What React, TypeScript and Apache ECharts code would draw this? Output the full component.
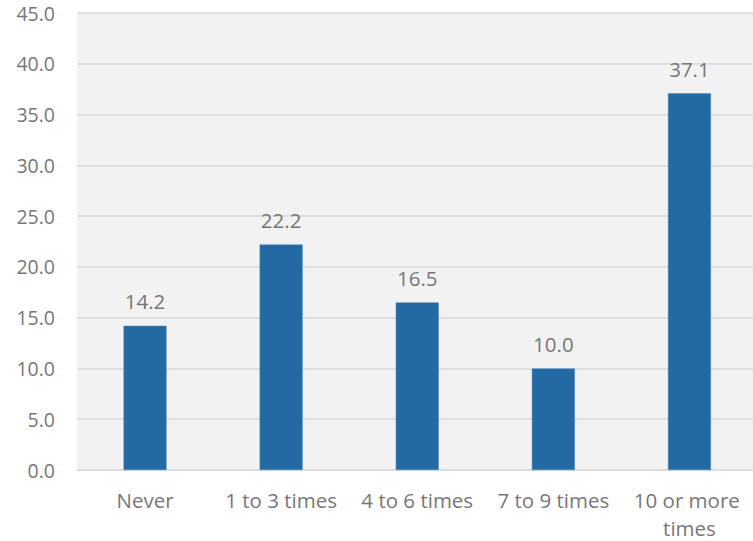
import React, { useEffect, useRef } from "react";
import * as echarts from "echarts";

const categories = ["Never", "1 to 3 times", "4 to 6 times", "7 to 9 times", "10 or more times"];
const values = [14.2, 22.2, 16.5, 10.0, 37.1];
const yTicks = { min: 0, max: 45, interval: 5 };

export default function App() {
  const ref = useRef<HTMLDivElement>(null);
  useEffect(() => {
    if (!ref.current) return;
    const chart = echarts.init(ref.current, null, { renderer: "svg" });
    const font = "'Open Sans', sans-serif";
    const gray = "#777777";
    chart.setOption({
      animation: false,
      backgroundColor: "#ffffff",
      grid: {
        left: 77,
        right: -4.5,
        top: 13,
        bottom: 71,
        outerBoundsMode: "none",
        show: true,
        backgroundColor: "#f2f2f2",
        borderWidth: 0,
      },
      xAxis: {
        type: "category",
        data: categories,
        axisTick: { show: false },
        axisLine: { lineStyle: { color: "#d9d9d9", width: 1 } },
        axisLabel: {
          color: gray,
          fontFamily: font,
          fontSize: 20.5,
          margin: 16,
          lineHeight: 28,
          width: 130,
          overflow: "break",
          interval: 0,
        },
      },
      yAxis: {
        type: "value",
        min: yTicks.min,
        max: yTicks.max,
        interval: yTicks.interval,
        axisLine: { show: false },
        axisTick: { show: false },
        splitLine: { lineStyle: { color: "#d9d9d9", width: 1.5 } },
        axisLabel: {
          color: gray,
          fontFamily: font,
          fontSize: 19.5,
          margin: 22,
          formatter: (v: number) => v.toFixed(1),
        },
      },
      series: [
        {
          type: "bar",
          data: values,
          barWidth: 43,
          itemStyle: { color: "#2369a4", borderColor: "#4a86bb", borderWidth: 0.5 },
          label: {
            show: true,
            position: "top",
            distance: 14,
            color: gray,
            fontFamily: font,
            fontSize: 20.5,
            formatter: (p: any) => Number(p.value).toFixed(1),
          },
        },
      ],
    });
    return () => chart.dispose();
  }, []);
  return (
    <div
      ref={ref}
      style={{ position: "absolute", left: 0, top: 0, width: 753, height: 541 }}
    />
  );
}
